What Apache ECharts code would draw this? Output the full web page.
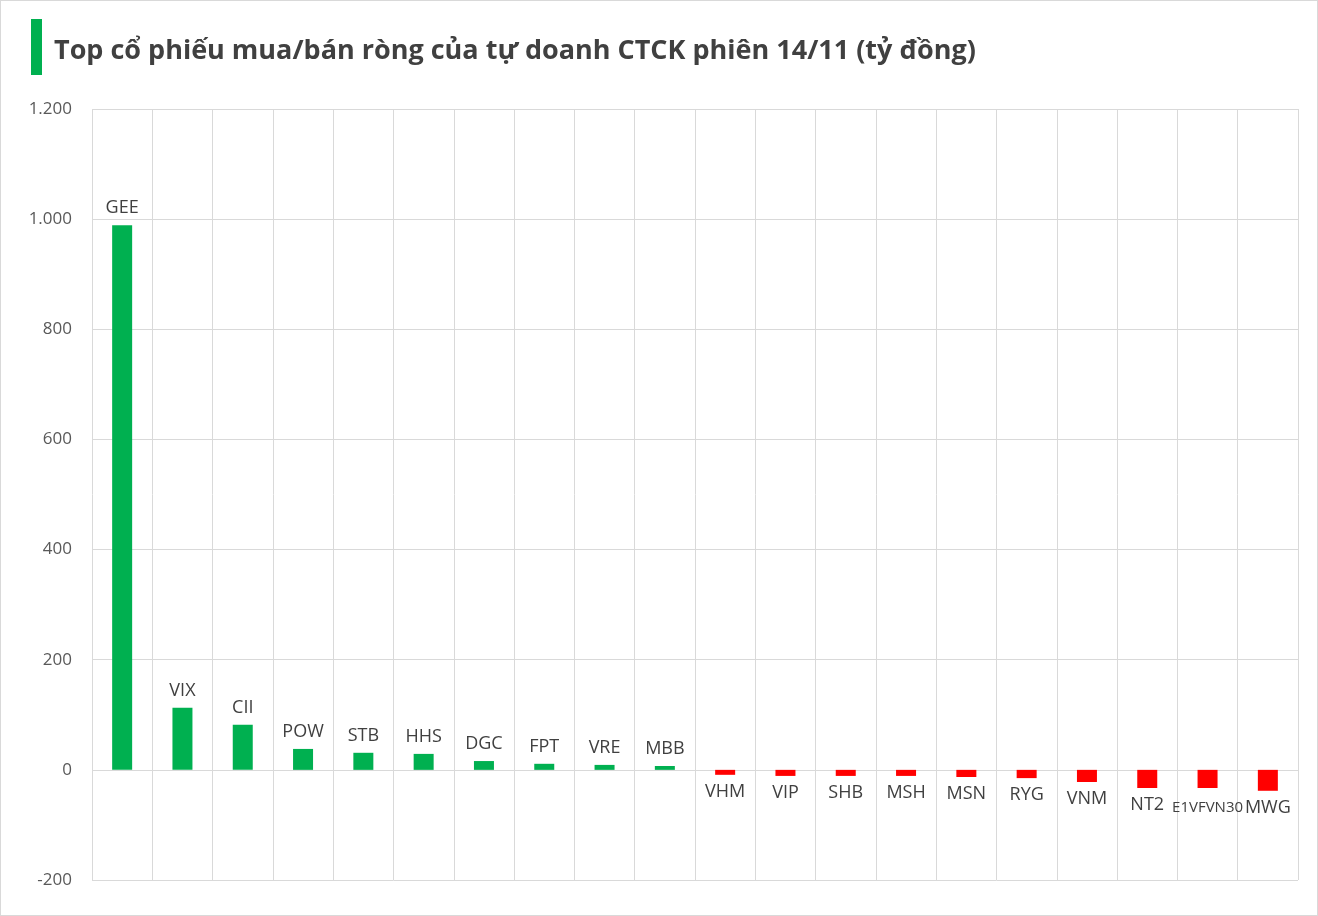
<!DOCTYPE html>
<html><head><meta charset="utf-8">
<script src="https://cdn.jsdelivr.net/npm/echarts@6/dist/echarts.min.js"></script>
<style>
html,body{margin:0;padding:0;background:#fff}
#wrap{position:relative;width:1316px;height:914px;border:1px solid #d9d9d9}
#title{position:absolute;left:30px;top:18px;height:56px;border-left:11px solid #00b050;padding-left:12px;font:bold 27px "Open Sans",sans-serif;color:#404040;line-height:60px}
#chart{position:absolute;left:0;top:0;width:1316px;height:914px}
</style></head>
<body><div id="wrap"><div id="chart"></div><div id="title">Top cổ phiếu mua/bán ròng của tự doanh CTCK phiên 14/11 (tỷ đồng)</div></div>
<script>
const tickers = ['GEE','VIX','CII','POW','STB','HHS','DGC','FPT','VRE','MBB','VHM','VIP','SHB','MSH','MSN','RYG','VNM','NT2','E1VFVN30','MWG'];
const netValues = [989, 113, 82, 38, 31, 29, 16, 11, 9, 7, -9, -11, -11, -11, -13, -15, -22, -33, -33, -38];
const yTicks = {min: -200, max: 1200, step: 200};

const chart = echarts.init(document.getElementById('chart'));
chart.setOption({
  animation: false,
  grid: {left: 91, right: 19, top: 108, bottom: 35},
  xAxis: {
    type: 'category', data: tickers,
    axisLine: {show: false}, axisTick: {show: false}, axisLabel: {show: false},
    splitLine: {show: true, interval: 0, lineStyle: {color: '#d9d9d9'}}
  },
  yAxis: {
    type: 'value', min: yTicks.min, max: yTicks.max, interval: yTicks.step,
    axisLabel: {color: '#595959', fontSize: 17, fontFamily: 'Open Sans', margin: 20,
      formatter: v => String(v).replace(/^(\d)(\d{3})$/, '$1.$2')},
    splitLine: {lineStyle: {color: '#d9d9d9'}}
  },
  series: [{
    type: 'bar', barWidth: 20,
    data: netValues.map((v, i) => ({
      value: v,
      itemStyle: {color: v >= 0 ? '#00b050' : '#ff0000'},
      label: {show: true, position: v >= 0 ? 'top' : 'bottom',
        distance: tickers[i] === 'E1VFVN30' ? 12 : 8,
        formatter: p => tickers[p.dataIndex], color: '#404040',
        fontSize: tickers[i] === 'E1VFVN30' ? 15 : 18, fontFamily: 'Open Sans'}
    }))
  }]
});
</script></body></html>
